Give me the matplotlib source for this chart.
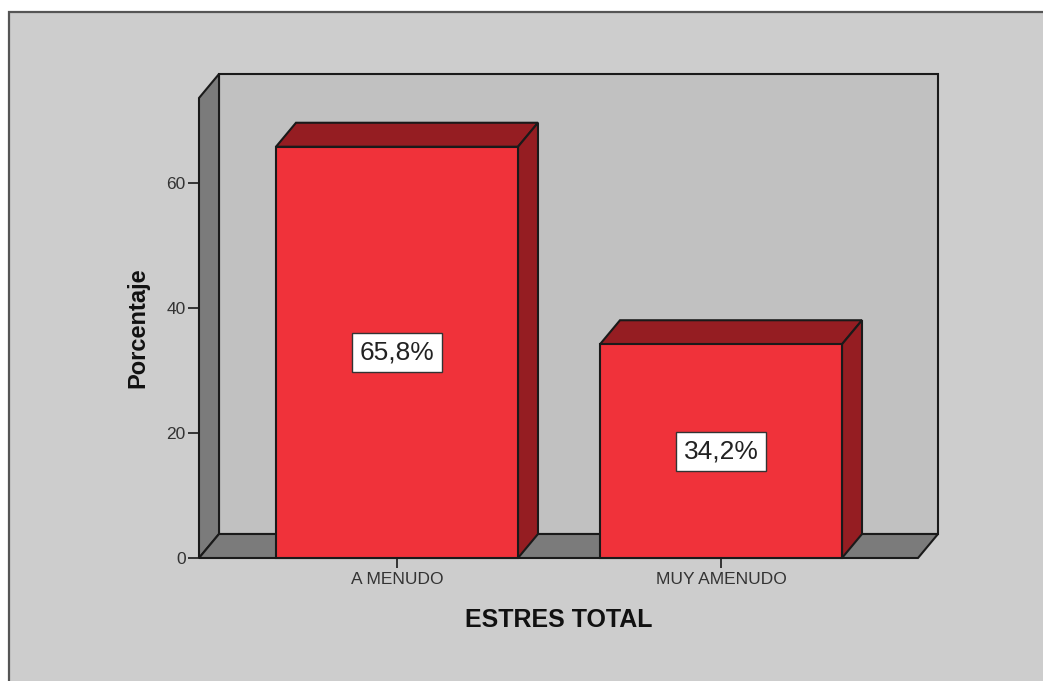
import matplotlib
matplotlib.use("Agg")
import matplotlib.pyplot as plt
from matplotlib.patches import Polygon, Rectangle

plt.rcParams['font.family'] = ['Liberation Sans', 'DejaVu Sans']

# data
categories = ['A MENUDO', 'MUY AMENUDO']
percentages = [65.8, 34.2]
value_labels = ['65,8%', '34,2%']
y_ticks = [0, 20, 40, 60]

# colours
outer_bg = '#cdcdcd'
wall_back = '#c1c1c1'
wall_side = '#7b7b7b'
bar_front = '#f0323a'
bar_dark = '#951d22'

W, H = 1043, 681
fig = plt.figure(figsize=(W / 100, H / 100), dpi=100)
fig.patch.set_facecolor('white')
fig.patches.append(Rectangle((9 / W, -0.05), 1.2, (H - 12) / H + 0.05,
                             transform=fig.transFigure, facecolor=outer_bg,
                             edgecolor='#555555', lw=1.6, zorder=-5))

ax = fig.add_axes([199 / W, (H - 558) / H, (918 - 199) / W, (558 - 98) / H])
ax.set_facecolor('none')
x0, x1 = -0.611, 1.608
ytop = 73.6
ax.set_xlim(x0, x1)
ax.set_ylim(0, ytop)

# depth offset of the 3D look, in data units
ddx = 20 / 324
ddy = 24 / 6.25

edge = dict(edgecolor='#1a1a1a', lw=1.5, clip_on=False, joinstyle='miter')
ax.add_patch(Polygon([(x0 + ddx, ddy), (x1 + ddx, ddy), (x1 + ddx, ytop + ddy),
                      (x0 + ddx, ytop + ddy)], facecolor=wall_back, **edge))
ax.add_patch(Polygon([(x0, 0), (x0 + ddx, ddy), (x0 + ddx, ytop + ddy), (x0, ytop)],
                     facecolor=wall_side, **edge))
ax.add_patch(Polygon([(x0, 0), (x1, 0), (x1 + ddx, ddy), (x0 + ddx, ddy)],
                     facecolor=wall_side, **edge))

width = 242 / 324
pos = list(range(len(categories)))
for c, v, lab in zip(pos, percentages, value_labels):
    l, r = c - width / 2, c + width / 2
    ax.add_patch(Polygon([(l, v), (r, v), (r + ddx, v + ddy), (l + ddx, v + ddy)],
                         facecolor=bar_dark, **edge))
    ax.add_patch(Polygon([(r, 0), (r + ddx, ddy), (r + ddx, v + ddy), (r, v)],
                         facecolor=bar_dark, **edge))
    ax.bar(c, v, width=width, color=bar_front, edgecolor='#1a1a1a', lw=1.5,
           clip_on=False, zorder=3)
    ax.text(c, v / 2, lab, ha='center', va='center', fontsize=19, zorder=5,
            color='#222222',
            bbox=dict(boxstyle='square,pad=0.28', fc='white', ec='#333333', lw=1))

for s in ax.spines.values():
    s.set_visible(False)

ax.set_yticks(y_ticks)
ax.set_xticks(pos)
ax.set_xticklabels(categories)
ax.tick_params(axis='y', direction='out', length=8, width=1.2, pad=1.5,
               labelsize=12.5, color='#1a1a1a', labelcolor='#333333')
ax.tick_params(axis='x', direction='out', length=7, width=1.2, pad=3,
               labelsize=12.5, color='#1a1a1a', labelcolor='#333333')

ax.text(0.5, (558 - 620) / 460, 'ESTRES TOTAL', transform=ax.transAxes,
        ha='center', va='center', fontsize=18, fontweight='bold', color='#111111')
ax.text((138 - 199) / 719, 0.5, 'Porcentaje', transform=ax.transAxes, rotation=90,
        ha='center', va='center', fontsize=17, fontweight='bold', color='#111111')

fig.savefig('out.png', dpi=100)
